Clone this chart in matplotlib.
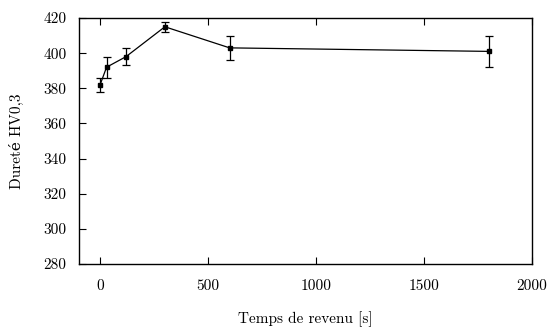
import matplotlib
matplotlib.use("Agg")
import matplotlib.pyplot as plt

# temps de revenu [s], durete HV0,3 et barres d'erreur
temps = [0, 30, 120, 300, 600, 1800]
durete = [382, 392, 398, 415, 403, 401]
erreur = [4, 6, 5, 3, 7, 9]

x_ticks = [0, 500, 1000, 1500, 2000]
y_ticks = [280, 300, 320, 340, 360, 380, 400, 420]

plt.rcParams["font.family"] = ["cmr10", "DejaVu Serif"]
plt.rcParams["mathtext.fontset"] = "cm"
plt.rcParams["axes.formatter.use_mathtext"] = True
plt.rcParams["font.size"] = 11


def main():
    fig = plt.figure(figsize=(5.52, 3.31), dpi=100)
    ax = fig.add_axes([78.5 / 552, 1 - 264 / 331, (532 - 78.5) / 552, (264 - 18) / 331])

    ax.errorbar(temps, durete, yerr=erreur, color="black", lw=0.9,
                marker="s", ms=3.5, capsize=3, elinewidth=0.9, capthick=0.9)

    ax.set_xlim(-100, 2000)
    ax.set_ylim(280, 420)
    ax.set_xticks(x_ticks)
    ax.set_yticks(y_ticks)
    ax.set_xticklabels([str(v) for v in x_ticks])
    ax.set_yticklabels([str(v) for v in y_ticks])

    ax.tick_params(axis="x", direction="in", top=True, bottom=True, length=5, width=0.8, pad=11)
    ax.tick_params(axis="y", direction="in", left=True, right=False, length=5, width=0.8, pad=8.5)
    for s in ax.spines.values():
        s.set_linewidth(1.0)

    ax.set_xlabel("Temps de revenu [s]", labelpad=13)
    ax.set_ylabel("Dureté HV0,3", labelpad=14)

    fig.savefig("out.png", dpi=100)


if __name__ == "__main__":
    main()
